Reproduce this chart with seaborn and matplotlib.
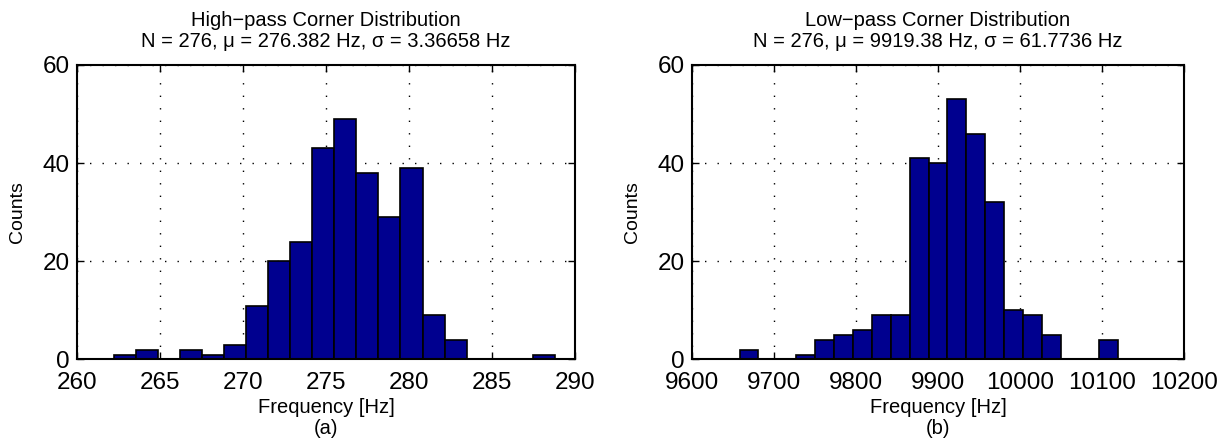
import numpy as np
import pandas as pd
import seaborn as sns
import matplotlib.pyplot as plt

# High-pass corner histogram (20 bins, MATLAB hist style)
hp_range = (262.23, 288.78)
hp_counts = [1, 2, 0, 2, 1, 3, 11, 20, 24, 43, 49, 38, 29, 39, 9, 4, 0, 0, 0, 1]
hp_title = "High\u2212pass Corner Distribution\nN = 276, \u03bc = 276.382 Hz, \u03c3 = 3.36658 Hz"
hp_xticks = [260, 265, 270, 275, 280, 285, 290]

# Low-pass corner histogram
lp_range = (9658.0, 10118.9)
lp_counts = [2, 0, 0, 1, 4, 5, 6, 9, 9, 41, 40, 53, 46, 32, 10, 9, 5, 0, 0, 4]
lp_title = "Low\u2212pass Corner Distribution\nN = 276, \u03bc = 9919.38 Hz, \u03c3 = 61.7736 Hz"
lp_xticks = [9600, 9700, 9800, 9900, 10000, 10100, 10200]

yticks = [0, 20, 40, 60]

sns.set_style("ticks", {"axes.edgecolor": "black", "text.color": "black",
                        "axes.labelcolor": "black", "xtick.color": "black",
                        "ytick.color": "black"})
plt.rcParams['font.family'] = ['Liberation Sans', 'DejaVu Sans']

fig = plt.figure(figsize=(12.32, 4.43), dpi=100)
ax1 = fig.add_axes([0.0625, 0.1885, 0.4042, 0.6648])
ax2 = fig.add_axes([0.5617, 0.1885, 0.3994, 0.6648])


def draw(ax, rng, counts, title, xticks, tag):
    nbins = len(counts)
    width = (rng[1] - rng[0]) / nbins
    centers = rng[0] + width * (np.arange(nbins) + 0.5)
    df = pd.DataFrame({"freq": centers, "count": counts})
    sns.histplot(data=df, x="freq", weights="count", bins=nbins, binrange=rng, ax=ax,
                 color="#00008f", edgecolor="black", linewidth=1.2, alpha=1.0)
    ax.set_xlim(xticks[0], xticks[-1])
    ax.set_ylim(0, 60)
    ax.set_xticks(xticks)
    ax.set_yticks(yticks)
    ax.grid(True, linestyle=(0, (1, 8)), color="black", linewidth=1.0)
    ax.set_axisbelow(True)
    ax.tick_params(direction="in", top=True, right=True, labelsize=17.5,
                   length=5, width=1, colors="black")
    ax.tick_params(axis="x", pad=9)
    ax.tick_params(axis="y", pad=5)
    for s in ax.spines.values():
        s.set_linewidth(1.5)
        s.set_visible(True)
    ax.set_title(title, fontsize=14.5, pad=13, linespacing=1.15)
    ax.set_xlabel("Frequency [Hz]\n" + tag, fontsize=14.5, labelpad=3, linespacing=1.15)
    ax.set_ylabel("Counts", fontsize=14, labelpad=12)


draw(ax1, hp_range, hp_counts, hp_title, hp_xticks, "(a)")
draw(ax2, lp_range, lp_counts, lp_title, lp_xticks, "(b)")

fig.savefig("out.png", dpi=100)
